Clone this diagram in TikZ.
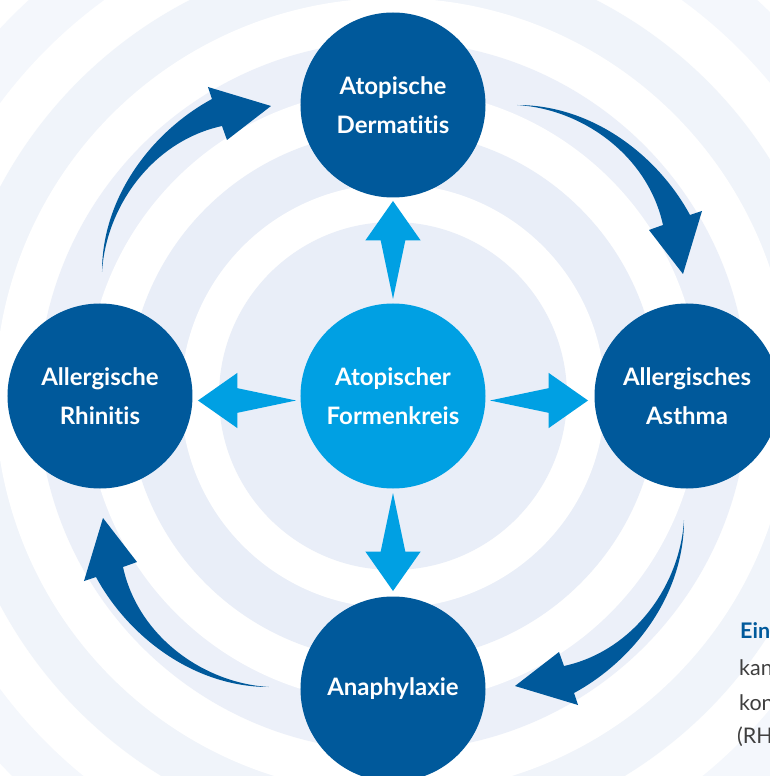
\documentclass[tikz,border=0pt]{standalone}
\usepackage{fontspec}
\setmainfont{Lato}[Ligatures=NoCommon]
\definecolor{darkblue}{HTML}{00599B}
\definecolor{lightblue}{HTML}{00A0E3}
\definecolor{ringA}{HTML}{E9EEF8}
\definecolor{ringB}{HTML}{ECF0F9}
\definecolor{ringC}{HTML}{F0F4FA}
\definecolor{ringD}{HTML}{F4F7FC}
\definecolor{textgray}{HTML}{3F3F3F}

\begin{document}
\begin{tikzpicture}[x=1pt, y=1pt,
    bigcircle/.style={circle, fill=darkblue, minimum size=185pt, inner sep=0pt,
        text=white, align=center, font=\bfseries\fontsize{24}{39}\selectfont},
    corecircle/.style={bigcircle, fill=lightblue},
    spoke/.style={fill=lightblue},
    cyclearrow/.style={fill=darkblue},
    sidetext/.style={anchor=base west, inner sep=0pt, text=textgray,
        font=\fontsize{21.5}{23}\selectfont}]

        % Picture frame
        \clip (-393,-380) rectangle (377,396);
        \fill[white] (-393,-380) rectangle (377,396);

        % Background rings
        \fill[ringD] (0,0) circle (538);
        \fill[white] (0,0) circle (490);
        \fill[ringC] (0,0) circle (445);
        \fill[white] (0,0) circle (398);
        \fill[ringB] (0,0) circle (355);
        \fill[white] (0,0) circle (307);
        \fill[ringA] (0,0) circle (265);
        \fill[white] (0,0) circle (212);
        \fill[ringA] (0,0) circle (174);

        % Circles
        \node[corecircle] (formenkreis) at (0,0) {Atopischer\\Formenkreis};
        \node[bigcircle] (dermatitis) at (0,291) {Atopische\\Dermatitis};
        \node[bigcircle] (asthma) at (294,0) {Allergisches\\Asthma};
        \node[bigcircle] (anaphylaxie) at (0,-293) {Anaphylaxie};
        \node[bigcircle] (rhinitis) at (-293,0) {Allergische\\Rhinitis};

        % Arrows out of the centre
        \fill[spoke, rotate=90] (97,0) -- (155.5,12.3) -- (155.5,27.7) -- (195,0) -- (155.5,-27.7) -- (155.5,-12.3) -- cycle;
        \fill[spoke, rotate=-90] (97,0) -- (155.5,12.3) -- (155.5,27.7) -- (195,0) -- (155.5,-27.7) -- (155.5,-12.3) -- cycle;
        \fill[spoke, yshift=-4.5pt] (97,0) -- (155.5,12.3) -- (155.5,27.7) -- (195,0) -- (155.5,-27.7) -- (155.5,-12.3) -- cycle;
        \fill[spoke, yshift=-4.5pt, rotate=180] (97,0) -- (155.5,12.3) -- (155.5,27.7) -- (195,0) -- (155.5,-27.7) -- (155.5,-12.3) -- cycle;

        % Curved arrows round the cycle
        \fill[cyclearrow] (-291,124) .. controls (-291,200) and (-240,265) .. (-181,297) -- (-185,309) -- (-122,290)
            -- (-166,256) -- (-171,270) .. controls (-240,255) and (-287,190) .. (-291,124) -- cycle;
        \fill[cyclearrow, rotate=-90] (-291,124) .. controls (-291,200) and (-240,265) .. (-181,297) -- (-185,309) -- (-122,290)
            -- (-166,256) -- (-171,270) .. controls (-240,255) and (-287,190) .. (-291,124) -- cycle;
        \fill[cyclearrow, rotate=-180] (-291,124) .. controls (-291,200) and (-240,265) .. (-181,297) -- (-185,309) -- (-122,290)
            -- (-166,256) -- (-171,270) .. controls (-240,255) and (-287,190) .. (-291,124) -- cycle;
        \fill[cyclearrow, rotate=-270] (-291,124) .. controls (-291,200) and (-240,265) .. (-181,297) -- (-185,309) -- (-122,290)
            -- (-166,256) -- (-171,270) .. controls (-240,255) and (-287,190) .. (-291,124) -- cycle;

        % Text at the right edge
        \node[sidetext, text=darkblue, font=\bfseries\fontsize{21.5}{23}\selectfont] (ein) at (347,-242) {Ein};
        \node[sidetext] (kan) at (346,-279) {kan};
        \node[sidetext] (kon) at (346,-314) {kon};
        \node[sidetext] (rh) at (344,-347) {(RH};

\end{tikzpicture}
\end{document}
